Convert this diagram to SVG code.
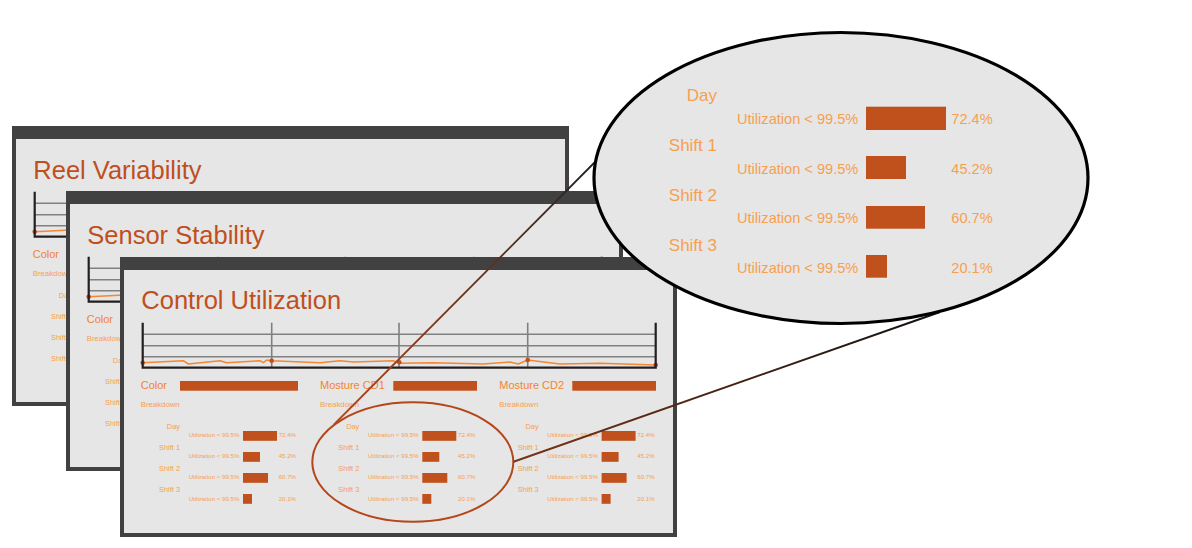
<svg xmlns="http://www.w3.org/2000/svg" xmlns:xlink="http://www.w3.org/1999/xlink" width="1192" height="548" viewBox="0 0 1192 548">
<defs>
<style>
.frame{fill:#414141}
.body{fill:#e6e6e6}
.ttl{font-family:"Liberation Sans",Arial,sans-serif;font-size:25.5px;fill:#bf4f1d}
.ax{stroke:#231f20;stroke-width:2.2;fill:none}
.grid{stroke:#808080;stroke-width:1.6;fill:none}
.trend{stroke:#f58634;stroke-width:1.5;fill:none;stroke-linejoin:round}
.pt{fill:#c0501c}
.bar{fill:#c0501c}
.hdr{font-family:"Liberation Sans",Arial,sans-serif;font-size:11px;fill:#f4832f}
.lbl{font-family:"Liberation Sans",Arial,sans-serif;fill:#f6a04f}
.s8{font-size:7.8px}
.s7{font-size:7.4px;text-anchor:end}
.s6{font-size:6.1px;text-anchor:end}
.b17{font-size:17px;text-anchor:end}
.b14{font-size:14.6px;text-anchor:end}
</style>
<linearGradient id="g1" gradientUnits="userSpaceOnUse" x1="334" y1="424" x2="596" y2="161">
<stop offset="0" stop-color="#b5481a"/><stop offset="1" stop-color="#222222"/>
</linearGradient>
<linearGradient id="g2" gradientUnits="userSpaceOnUse" x1="514" y1="462" x2="940" y2="312">
<stop offset="0" stop-color="#7a3516"/><stop offset="1" stop-color="#111111"/>
</linearGradient>
<g id="col">
<text class="lbl s8" x="20.7" y="150.3">Breakdown</text>
<text class="lbl s7" x="60" y="171.7">Day</text>
<text class="lbl s7" x="60" y="193">Shift 1</text>
<text class="lbl s7" x="60" y="213.7">Shift 2</text>
<text class="lbl s7" x="60" y="234.7">Shift 3</text>
<text class="lbl s6" x="119.3" y="180">Utilization &lt; 99.5%</text>
<text class="lbl s6" x="119.3" y="201">Utilization &lt; 99.5%</text>
<text class="lbl s6" x="119.3" y="222">Utilization &lt; 99.5%</text>
<text class="lbl s6" x="119.3" y="243.7">Utilization &lt; 99.5%</text>
<rect class="bar" x="123" y="174" width="34" height="9.8"/>
<rect class="bar" x="123" y="195" width="17" height="9.8"/>
<rect class="bar" x="123" y="216" width="25" height="9.8"/>
<rect class="bar" x="123" y="237" width="9" height="9.8"/>
<text class="lbl s6" x="176" y="180">72.4%</text>
<text class="lbl s6" x="176" y="201">45.2%</text>
<text class="lbl s6" x="176" y="222">60.7%</text>
<text class="lbl s6" x="176" y="243.7">20.1%</text>
</g>
<g id="win">
<rect class="frame" width="557" height="280"/>
<rect class="body" x="4" y="13" width="549" height="263"/>
<path class="grid" d="M23 77.3H535.7M23 88.7H535.7M23 99.7H535.7M151.7 65.7V110.7M279 65.7V110.7M407.7 65.7V110.7"/>
<polyline class="trend" points="22.7,105.7 63.3,103.7 68.3,107 100,103.7 106.7,105.7 140,103.7 143.3,105.7 146.7,103 151.7,103.7 200,105.7 220,103.7 233.3,105 273.3,103.7 279.3,106.3 313.3,105.7 363.3,107 390,105 398.3,107 407.7,103 440,107 480,106.3 535.7,108"/>
<circle class="pt" cx="22.7" cy="105.7" r="2.3"/>
<circle class="pt" cx="151.7" cy="103.7" r="2.3"/>
<circle class="pt" cx="279.3" cy="105.3" r="2.3"/>
<circle class="pt" cx="407.7" cy="103" r="2.3"/>
<circle class="pt" cx="535.7" cy="108" r="2.3"/>
<path class="ax" d="M22.7 65.7V111.8M535.7 65.7V111.8M21.6 110.7H536.8"/>
<text class="hdr" x="20.7" y="132.3">Color</text>
<rect class="bar" x="60" y="124" width="118" height="9.7"/>
<text class="hdr" x="200" y="132.3">Mosture CD1</text>
<rect class="bar" x="273.3" y="124" width="83.7" height="9.7"/>
<text class="hdr" x="379.3" y="132.3">Mosture CD2</text>
<rect class="bar" x="452.3" y="124" width="83.7" height="9.7"/>
<use xlink:href="#col"/>
<use xlink:href="#col" x="179.3"/>
<use xlink:href="#col" x="358.6"/>
</g>
</defs>
<rect width="1192" height="548" fill="#ffffff"/>
<g id="win-reel" transform="translate(12,126)">
<use xlink:href="#win"/>
<text class="ttl" x="21.3" y="52.8">Reel Variability</text>
</g>
<g id="win-sensor" transform="translate(66,191)">
<use xlink:href="#win"/>
<text class="ttl" x="21.3" y="52.5">Sensor Stability</text>
</g>
<g id="win-control" transform="translate(120,257)">
<use xlink:href="#win"/>
<text class="ttl" x="21.3" y="52.3">Control Utilization</text>
</g>
<g id="zoom-source">
<ellipse cx="412.8" cy="462" rx="100.5" ry="59.7" fill="none" stroke="#b5461a" stroke-width="2"/>
</g>
<g id="connectors">
<line x1="334" y1="424.5" x2="596" y2="161" stroke="url(#g1)" stroke-width="1.8"/>
<line x1="513.5" y1="461.7" x2="940" y2="312" stroke="url(#g2)" stroke-width="2"/>
</g>
<g id="zoom-callout">
<ellipse cx="841" cy="178" rx="247" ry="145.5" fill="#e6e6e6" stroke="#000000" stroke-width="3.2"/>
<text class="lbl b17" x="717" y="101">Day</text>
<text class="lbl b17" x="717" y="151">Shift 1</text>
<text class="lbl b17" x="717" y="201">Shift 2</text>
<text class="lbl b17" x="717" y="251">Shift 3</text>
<text class="lbl b14" x="858.3" y="124.3">Utilization &lt; 99.5%</text>
<text class="lbl b14" x="858.3" y="173.5">Utilization &lt; 99.5%</text>
<text class="lbl b14" x="858.3" y="223.3">Utilization &lt; 99.5%</text>
<text class="lbl b14" x="858.3" y="273.3">Utilization &lt; 99.5%</text>
<rect class="bar" x="866" y="106.7" width="80" height="23.3"/>
<rect class="bar" x="866" y="156" width="40" height="23"/>
<rect class="bar" x="866" y="206" width="59" height="22.7"/>
<rect class="bar" x="866" y="255" width="21" height="22.7"/>
<text class="lbl b14" x="992.7" y="124.3">72.4%</text>
<text class="lbl b14" x="992.7" y="173.5">45.2%</text>
<text class="lbl b14" x="992.7" y="223.3">60.7%</text>
<text class="lbl b14" x="992.7" y="273.3">20.1%</text>
</g>
</svg>
